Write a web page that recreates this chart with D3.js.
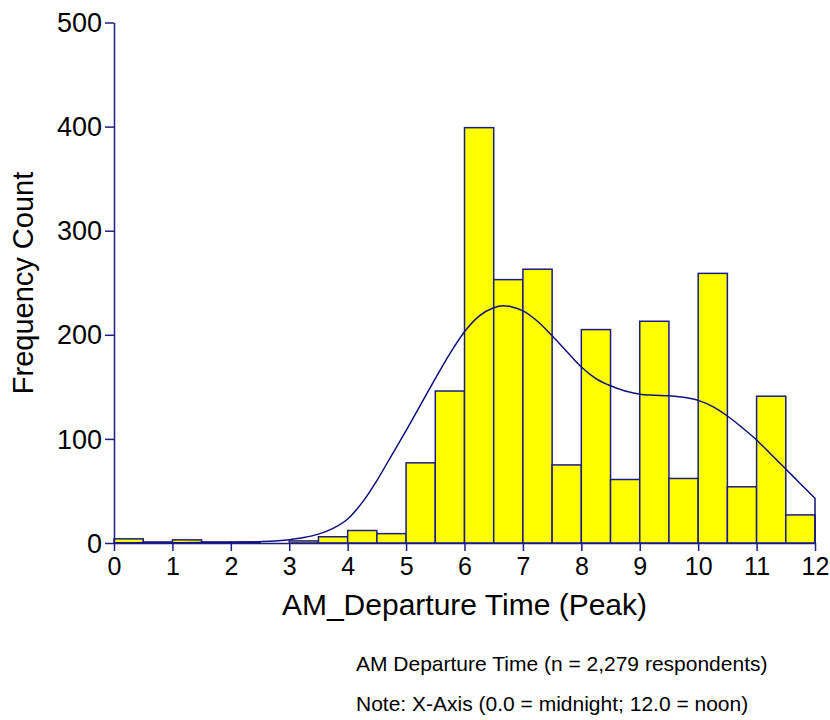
<!DOCTYPE html>
<html>
<head>
<meta charset="utf-8">
<script src="https://cdn.jsdelivr.net/npm/d3@7"></script>
<style>
  html, body { margin: 0; padding: 0; background: #fff; }
  svg { display: block; font-family: "Liberation Sans", Arial, sans-serif; }
</style>
</head>
<body>
<svg id="chart" width="830" height="720"></svg>
<script>
// Histogram bins: half-hour bins from 0.0 (midnight) to 12.0 (noon)
const binStarts = [0, 0.5, 1, 1.5, 2, 2.5, 3, 3.5, 4, 4.5, 5, 5.5,
                   6, 6.5, 7, 7.5, 8, 8.5, 9, 9.5, 10, 10.5, 11, 11.5];
const binWidth = 0.5;
const counts = [4, 1, 3, 1, 1, 0, 2, 6, 12, 9, 77, 146,
                399, 253, 263, 75, 205, 61, 213, 62, 259, 54, 141, 27];

// Smoothed density overlay, scaled to counts
const curveX = [0, 0.5, 1, 1.5, 2, 2.5, 3, 3.25, 3.5, 3.75, 4, 4.25, 4.5, 4.75, 5, 5.25, 5.5, 5.75,
                6, 6.25, 6.5, 6.65, 6.8, 7, 7.25, 7.5, 7.75, 8, 8.25, 8.5, 8.75, 9, 9.25, 9.5, 9.75,
                10, 10.25, 10.5, 10.75, 11, 11.25, 11.5, 11.75, 12];
const curveY = [0.1, 0.2, 0.3, 0.4, 0.6, 1.3, 3.2, 5.2, 8.5, 14, 23, 39, 60, 84, 108, 133, 158, 182,
                203, 218, 226, 228, 227, 223, 213, 199, 184, 169, 158, 151, 146, 143, 142, 141.5, 140,
                137, 131, 122, 111, 99, 85, 71, 57, 43];

const xTicks = [0, 1, 2, 3, 4, 5, 6, 7, 8, 9, 10, 11, 12];
const yTicks = [0, 100, 200, 300, 400, 500];

const xTitle = "AM_Departure Time (Peak)";
const yTitle = "Frequency Count";
const notes = ["AM Departure Time (n = 2,279 respondents)",
               "Note: X-Axis (0.0 = midnight; 12.0 = noon)"];

const axisColor = "#1c1c86";
const svg = d3.select("#chart");

const x = d3.scaleLinear().domain([0, 12]).range([114, 815]);
const y = d3.scaleLinear().domain([0, 500]).range([543, 22.5]);

// Bars
const bins = binStarts.map((s, i) => ({ x0: s, x1: s + binWidth, n: counts[i] }));
svg.append("g")
  .selectAll("rect")
  .data(bins)
  .join("rect")
  .attr("x", d => x(d.x0))
  .attr("y", d => y(d.n))
  .attr("width", d => x(d.x1) - x(d.x0))
  .attr("height", d => y(0) - y(d.n))
  .attr("fill", "#ffff00")
  .attr("stroke", axisColor)
  .attr("stroke-width", 1.5);

// Density curve, closed down to the baseline at the right end
const pts = curveX.map((v, i) => [v, curveY[i]]);
const line = d3.line().x(d => x(d[0])).y(d => y(d[1])).curve(d3.curveMonotoneX);
svg.append("path")
  .attr("d", line(pts) + "L" + x(12) + "," + y(0))
  .attr("fill", "none")
  .attr("stroke", "#10107e")
  .attr("stroke-width", 1.5);

// Axes
const xAxis = d3.axisBottom(x).tickValues(xTicks).tickFormat(d3.format("d"))
  .tickSizeInner(8).tickSizeOuter(0).tickPadding(6);
const gx = svg.append("g").attr("transform", `translate(0,${y(0)})`).call(xAxis);

const yAxis = d3.axisLeft(y).tickValues(yTicks).tickFormat(d3.format("d"))
  .tickSizeInner(9).tickSizeOuter(0).tickPadding(3);
const gy = svg.append("g").attr("transform", `translate(${x(0)},0)`).call(yAxis);

[gx, gy].forEach(g => {
  g.selectAll("path, line").attr("stroke", axisColor).attr("stroke-width", 1.5);
  g.selectAll("text").attr("fill", "#000")
    .style("font-family", "'Liberation Sans', Arial, sans-serif");
});
gx.selectAll("text").style("font-size", "25px");
gy.selectAll("text").style("font-size", "27px").attr("dy", "0.34em");

// Titles
svg.append("text")
  .attr("x", (x(0) + x(12)) / 2).attr("y", 615)
  .attr("text-anchor", "middle")
  .style("font-size", "30px")
  .text(xTitle);

svg.append("text")
  .attr("transform", `translate(33,283) rotate(-90)`)
  .attr("text-anchor", "middle")
  .style("font-size", "29px")
  .text(yTitle);

// Footnotes
svg.append("g").selectAll("text")
  .data(notes)
  .join("text")
  .attr("x", 356)
  .attr("y", (d, i) => 671 + i * 40)
  .style("font-size", "21px")
  .text(d => d);
</script>
</body>
</html>
